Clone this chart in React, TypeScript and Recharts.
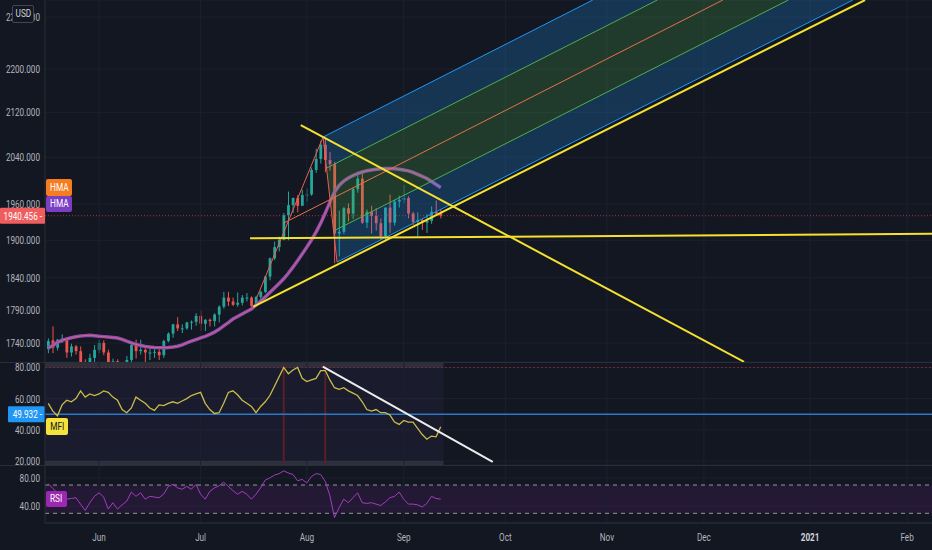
import React from 'react';
import {
  Area,
  Bar,
  CartesianGrid,
  ComposedChart,
  Line,
  ReferenceArea,
  ReferenceLine,
  XAxis,
  YAxis,
} from 'recharts';

// XAUUSD daily, May–Sep 2020 + future space. Bar index 0 = 15 May 2020 (weekdays only).

document.body.style.margin = '0';
document.body.style.background = '#131722';

const BG = '#131722';
const GRID = '#1c2030';
const BORDER = '#2a2e39';
const TEXT = '#b2b5be';
const UP = '#26a69a';
const DOWN = '#ef5350';
const FONT = 'Roboto, sans-serif';

const W = 932;
const AXIS_W = 45;
const X_DOMAIN: [number, number] = [-0.7, 191.4];

const MONTH_TICKS = [11, 33, 56, 77, 99, 121, 142, 165, 186];
const MONTH_LABELS = ['Jun', 'Jul', 'Aug', 'Sep', 'Oct', 'Nov', 'Dec', '2021', 'Feb'];

const OPEN = [
  1731, 1744, 1733, 1745, 1747, 1726, 1735, 1728, 1710, 1708,
  1718, 1730, 1740, 1726, 1700, 1713, 1685, 1698, 1715, 1737,
  1728, 1730, 1726, 1726, 1727, 1722, 1743, 1754, 1768, 1762,
  1762, 1771, 1772, 1781, 1769, 1775, 1773, 1783, 1795, 1809,
  1803, 1798, 1801, 1809, 1809, 1796, 1810, 1818, 1842, 1871,
  1889, 1901, 1941, 1958, 1970, 1957, 1975, 1976, 2018, 2037,
  2062, 2035, 2028, 1911, 1914, 1953, 1944, 1985, 2003, 1929,
  1947, 1940, 1928, 1907, 1954, 1929, 1964, 1967, 1970, 1944,
  1930, 1933, 1929, 1932, 1947, 1944,
];
const HIGH = [
  1747, 1765, 1746, 1753, 1748, 1739, 1737, 1735, 1716, 1724,
  1737, 1745, 1744, 1730, 1717, 1716, 1701, 1721, 1740, 1745,
  1745, 1732, 1736, 1732, 1731, 1745, 1756, 1769, 1779, 1768,
  1772, 1774, 1785, 1789, 1776, 1777, 1785, 1797, 1818, 1818,
  1809, 1817, 1813, 1816, 1811, 1812, 1820, 1843, 1872, 1898,
  1906, 1945, 1981, 1971, 1975, 1984, 1986, 2022, 2055, 2069,
  2075, 2049, 2032, 1949, 1955, 1961, 1988, 2015, 2014, 1951,
  1957, 1953, 1936, 1954, 1976, 1967, 1974, 1992, 1973, 1947,
  1946, 1935, 1943, 1956, 1966, 1951,
];
const LOW = [
  1725, 1725, 1729, 1740, 1718, 1720, 1723, 1703, 1693, 1702,
  1710, 1725, 1722, 1693, 1694, 1671, 1684, 1694, 1711, 1717,
  1723, 1705, 1715, 1718, 1715, 1718, 1741, 1748, 1758, 1755,
  1760, 1760, 1766, 1758, 1758, 1765, 1765, 1771, 1792, 1796,
  1796, 1795, 1797, 1803, 1795, 1795, 1805, 1816, 1836, 1868,
  1882, 1900, 1900, 1945, 1946, 1957, 1964, 1974, 2013, 2029,
  2014, 2017, 1863, 1874, 1910, 1931, 1935, 1979, 1927, 1920,
  1911, 1916, 1901, 1901, 1912, 1924, 1954, 1961, 1936, 1925,
  1906, 1917, 1912, 1927, 1942, 1936,
];
const CLOSE = [
  1743, 1733, 1745, 1747, 1726, 1735, 1728, 1710, 1708, 1718,
  1730, 1740, 1726, 1700, 1713, 1685, 1698, 1715, 1737, 1728,
  1730, 1726, 1726, 1727, 1722, 1743, 1754, 1768, 1762, 1762,
  1771, 1772, 1781, 1769, 1775, 1773, 1783, 1795, 1809, 1803,
  1798, 1801, 1809, 1809, 1796, 1810, 1818, 1842, 1871, 1889,
  1901, 1941, 1958, 1970, 1957, 1975, 1976, 2018, 2037, 2062,
  2035, 2028, 1911, 1914, 1953, 1944, 1985, 2003, 1929, 1947,
  1940, 1928, 1907, 1954, 1929, 1964, 1967, 1970, 1944, 1930,
  1933, 1929, 1932, 1947, 1944, 1940,
];
const HMA = [
  1732.7, 1736.4, 1741.0, 1744.0, 1746.2, 1748.0, 1749.5, 1750.4, 1751.1, 1751.5,
  1751.0, 1750.2, 1749.6, 1749.0, 1748.4, 1747.5, 1745.5, 1742.8, 1740.3, 1738.0,
  1736.5, 1735.0, 1734.1, 1733.5, 1733.2, 1733.0, 1733.3, 1734.1, 1735.3, 1737.2,
  1740.2, 1742.8, 1745.2, 1747.7, 1750.0, 1753.0, 1756.4, 1760.5, 1765.8, 1770.7,
  1776.1, 1780.0, 1783.9, 1787.7, 1791.5, 1797.6, 1803.7, 1809.9, 1817.1, 1824.1,
  1831.1, 1838.4, 1847.1, 1856.8, 1867.2, 1877.8, 1888.9, 1900.4, 1913.4, 1928.1,
  1944.8, 1963.2, 1980.2, 1991.3, 1998.9, 2004.0, 2008.3, 2011.8, 2014.4, 2016.5,
  2018.0, 2019.0, 2020.0, 2020.3, 2020.3, 2020.0, 2019.0, 2018.0, 2016.3, 2013.7,
  2010.2, 2006.8, 2003.3, 1998.1, 1993.0, 1987.9,
];
const MFI = [
  57, 52, 49, 56, 59, 58, 60, 65, 61, 63,
  62, 63, 65, 64, 61, 59, 53, 51, 54, 61,
  59, 57, 54, 52.5, 56, 55.5, 57, 58, 57, 58.5,
  60, 62, 63, 64, 57, 53, 50.5, 51, 57, 64,
  65, 62.5, 59, 57, 55, 51, 55, 58, 62, 68,
  74, 80, 76, 78.4, 80, 73, 71, 72, 73, 78,
  78, 72, 67, 66, 67, 65, 63.5, 62, 58, 53,
  52, 53, 51, 51, 49.5, 45, 43.5, 46, 45, 45,
  41, 37, 34, 36, 35.5, 42,
];
const RSI = [
  72, 65, 59, 52, 50, 51, 52, 43, 34, 45,
  54, 59, 53, 36, 45, 36, 42, 47, 60, 54,
  59, 50, 54, 53, 52, 57, 68, 71, 66, 64,
  68, 64, 71, 57, 50, 61, 66, 69, 74, 68,
  62, 57, 61, 57, 50, 57, 66, 77, 80, 84,
  86, 90, 87, 85, 76, 78, 73, 82, 86, 85,
  75, 55, 24, 38, 50, 45, 52, 59, 45, 44,
  45, 43, 41, 46, 52, 54, 60, 50, 43, 43,
  42, 39, 44, 54, 51, 50,
];

const PRICE_TICKS = [1740, 1790, 1840, 1900, 1960, 2040, 2120, 2200, 2300];
const PRICE_DOMAIN: [number, number] = [1712, 2334];
const LAST_PRICE = 1940.456;
const MFI_TICKS = [20, 40, 60, 80];
const MFI_DOMAIN: [number, number] = [17.45, 83.5];
const MFI_LEVEL = 49.932;
const MFI_HOT_BARS = [51, 60];
const RSI_TICKS = [40, 80];
const RSI_DOMAIN: [number, number] = [16.3, 98.3];

// drawings as [bar index, price]
const TREND_DOWN = [[54.69, 2097.0], [150.7, 1712.3]];
const TREND_FLAT = [[43.71, 1903.2], [191.4, 1910.5]];
const TREND_UP = [[44.42, 1794.9], [176.9, 2333.9]];
const FORK_AB = [[45.22, 1809.9], [59.52, 2075.6]];
const FORK_BC = [[59.52, 2075.6], [62.55, 1864.9]];
const FORK_TOP = [[59.52, 2075.6], [117.93, 2333.9]];
const FORK_UPPER = [[60.28, 2021.2], [131.9, 2333.9]];
const FORK_MEDIAN = [[50.92, 1927.9], [146.09, 2333.9]];
const FORK_LOWER = [[61.79, 1915.1], [160.28, 2333.9]];
const FORK_BOTTOM = [[62.55, 1864.9], [174.25, 2333.9]];
// pitchfork bands as [bar index, low, high]
const BAND_OUTER_HI = [[59.52, 2075.6, 2075.6], [60.28, 2021.2, 2078.8], [131.9, 2333.9, 2400.3]];
const BAND_INNER_HI = [[60.28, 2021.2, 2021.2], [61.04, 1967.4, 2024.3], [146.09, 2333.9, 2401.4]];
const BAND_INNER_LO = [[61.04, 1967.4, 1967.4], [61.79, 1915.1, 1970.5], [160.28, 2333.9, 2401.4]];
const BAND_OUTER_LO = [[61.79, 1915.1, 1915.1], [62.55, 1864.9, 1918.0], [174.25, 2333.9, 2400.3]];
const MFI_TREND = [[59.46, 80.5], [96.27, 19.5]];

const rows = OPEN.map((o, i) => ({
  i,
  o,
  h: HIGH[i],
  l: LOW[i],
  c: CLOSE[i],
  range: [LOW[i], HIGH[i]],
  hma: HMA[i],
  mfi: MFI[i],
  rsi: RSI[i],
}));
const seg = (pts: number[][]) => pts.map(([i, v]) => ({ i, v }));
const band = (pts: number[][]) => pts.map(([i, lo, hi]) => ({ i, r: [lo, hi] }));

function Candle(props: any) {
  const { x, y, width, height, payload } = props;
  if (!payload || height == null || isNaN(y)) return null;
  const top = Math.min(y, y + height);
  const h = Math.abs(height);
  const span = Math.log(payload.h) - Math.log(payload.l);
  const at = (v: number) => top + (span > 0 ? (h * (Math.log(payload.h) - Math.log(v))) / span : 0);
  const cx = x + width / 2;
  const color = payload.c >= payload.o ? UP : DOWN;
  const bTop = at(Math.max(payload.o, payload.c));
  const bBot = at(Math.min(payload.o, payload.c));
  return (
    <g>
      <line x1={cx} x2={cx} y1={top} y2={top + h} stroke={color} strokeWidth={1} />
      <rect x={cx - 1.4} y={bTop} width={2.8} height={Math.max(1, bBot - bTop)} fill={color} />
    </g>
  );
}

const yTick = (digits: number) => (p: any) => (
  <text
    transform={`translate(40, ${p.y}) scale(0.74, 1)`}
    textAnchor="end"
    dy="0.35em"
    fill={TEXT}
    fontSize={11}
    fontFamily={FONT}
  >
    {Number(p.payload.value).toFixed(digits)}
  </text>
);

const monthTick = (p: any) => {
  const k = MONTH_TICKS.indexOf(p.payload.value);
  const label = MONTH_LABELS[k] ?? '';
  const year = /^\d{4}$/.test(label);
  return (
    <text
      transform={`translate(${p.x}, 76) scale(0.74, 1)`}
      textAnchor="middle"
      fill={year ? '#d1d4dc' : TEXT}
      fontWeight={year ? 700 : 400}
      fontSize={11}
      fontFamily={FONT}
    >
      {label}
    </text>
  );
};

const valueTag = (text: string, bg: string, left: number) => (p: any) => {
  const vb = p.viewBox || {};
  const w = AXIS_W - left;
  return (
    <g>
      <rect x={left} y={vb.y - 8} width={w} height={16} fill={bg} rx={1} />
      <text
        transform={`translate(${AXIS_W - 3}, ${vb.y}) scale(0.74, 1)`}
        textAnchor="end"
        dy="0.35em"
        fill="#ffffff"
        fontSize={11}
        fontFamily={FONT}
      >
        {text} -
      </text>
    </g>
  );
};

const monthGrid = MONTH_TICKS.map((t) => (
  <ReferenceLine key={`g${t}`} x={t} stroke={GRID} strokeWidth={1} ifOverflow="hidden" />
));

function Badge({ left, top, w, h, bg, color, text, border }: any) {
  return (
    <div
      style={{
        position: 'absolute',
        left,
        top,
        width: w,
        height: h,
        background: bg,
        color,
        border,
        boxSizing: 'border-box',
        borderRadius: 2,
        fontFamily: FONT,
        fontSize: 11,
        lineHeight: `${h - (border ? 2 : 0)}px`,
        textAlign: 'center',
        overflow: 'hidden',
      }}
    >
      <span style={{ display: 'inline-block', transform: 'scaleX(0.75)' }}>{text}</span>
    </div>
  );
}

const hiddenX = (
  <XAxis dataKey="i" type="number" domain={X_DOMAIN} allowDataOverflow hide />
);

export default function App() {
  const fork = (data: number[][], stroke: string, width = 1) => (
    <Line
      data={seg(data)}
      dataKey="v"
      stroke={stroke}
      strokeWidth={width}
      dot={false}
      activeDot={false}
      isAnimationActive={false}
    />
  );
  const fill = (data: number[][], color: string) => (
    <Area
      data={band(data)}
      dataKey="r"
      type="linear"
      stroke="none"
      fill={color}
      fillOpacity={0.24}
      isAnimationActive={false}
    />
  );

  return (
    <div style={{ position: 'relative', width: W, height: 550, background: BG, overflow: 'hidden' }}>
      {/* price pane */}
      <div style={{ position: 'absolute', left: 0, top: 0 }}>
        <ComposedChart width={W} height={362} data={rows} margin={{ top: 0, right: 0, bottom: 0, left: 0 }}>
          <CartesianGrid stroke={GRID} vertical={false} />
          {hiddenX}
          <YAxis
            type="number"
            scale="log"
            domain={PRICE_DOMAIN}
            allowDataOverflow
            ticks={PRICE_TICKS}
            interval={0}
            width={AXIS_W}
            tickLine={false}
            axisLine={{ stroke: BORDER }}
            tick={yTick(3)}
          />
          {monthGrid}
          <Bar dataKey="range" shape={Candle} isAnimationActive={false} />
          <Line dataKey="hma" stroke="#8a4fb0" strokeWidth={3.5} dot={false} activeDot={false} isAnimationActive={false} />
          <Line dataKey="hma" stroke="#d9607f" strokeWidth={1} dot={false} activeDot={false} isAnimationActive={false} />
        </ComposedChart>
      </div>
      {/* drawings over the price pane */}
      <div style={{ position: 'absolute', left: 0, top: 0 }}>
        <ComposedChart width={W} height={362} margin={{ top: 0, right: 0, bottom: 0, left: 0 }}>
          {hiddenX}
          <YAxis
            type="number"
            scale="log"
            domain={PRICE_DOMAIN}
            allowDataOverflow
            ticks={PRICE_TICKS}
            width={AXIS_W}
            tick={false}
            tickLine={false}
            axisLine={false}
          />
          {fill(BAND_OUTER_HI, '#2196f3')}
          {fill(BAND_INNER_HI, '#4caf50')}
          {fill(BAND_INNER_LO, '#4caf50')}
          {fill(BAND_OUTER_LO, '#2196f3')}
          <ReferenceLine
            y={LAST_PRICE}
            stroke="#f23645"
            strokeOpacity={0.7}
            strokeDasharray="1 2"
            label={valueTag('1940.456', '#f05d5e', 0)}
          />
          {fork(FORK_TOP, '#2196f3')}
          {fork(FORK_UPPER, '#4caf50')}
          {fork(FORK_MEDIAN, '#e8704a')}
          {fork(FORK_LOWER, '#4caf50')}
          {fork(FORK_BOTTOM, '#2196f3')}
          {fork(FORK_AB, '#e8604e')}
          {fork(FORK_BC, '#e8604e')}
          {fork(TREND_DOWN, '#f5e12e', 2)}
          {fork(TREND_FLAT, '#f5e12e', 2)}
          {fork(TREND_UP, '#f5e12e', 2)}
        </ComposedChart>
      </div>

      {/* MFI pane */}
      <div style={{ position: 'absolute', left: 0, top: 362 }}>
        <ComposedChart width={W} height={103} data={rows} margin={{ top: 0, right: 0, bottom: 0, left: 0 }}>
          <CartesianGrid stroke={GRID} vertical={false} />
          {hiddenX}
          <YAxis
            type="number"
            domain={MFI_DOMAIN}
            allowDataOverflow
            ticks={MFI_TICKS}
            interval={0}
            width={AXIS_W}
            tickLine={false}
            axisLine={{ stroke: BORDER }}
            tick={yTick(3)}
          />
          {monthGrid}
          <ReferenceArea x1={X_DOMAIN[0]} x2={85.6} y1={20} y2={80} fill="#7e57c2" fillOpacity={0.07} stroke="none" />
          <ReferenceArea x1={X_DOMAIN[0]} x2={85.6} y1={80} y2={MFI_DOMAIN[1]} fill="#787b86" fillOpacity={0.25} stroke="none" />
          <ReferenceArea x1={X_DOMAIN[0]} x2={85.6} y1={MFI_DOMAIN[0]} y2={20} fill="#787b86" fillOpacity={0.25} stroke="none" />
          {MFI_HOT_BARS.map((b) => (
            <ReferenceLine key={`hot${b}`} x={b} stroke="#5a1f2a" strokeWidth={2} />
          ))}
          <ReferenceLine y={80} stroke="#7a2632" strokeDasharray="2 2" />
          <ReferenceLine y={MFI_LEVEL} stroke="#2a78c8" strokeWidth={1.5} label={valueTag('49.932', '#2196f3', 8)} />
          <Line dataKey="mfi" stroke="#c9bd4a" strokeWidth={1.3} dot={false} activeDot={false} isAnimationActive={false} />
          <Line
            data={seg(MFI_TREND)}
            dataKey="v"
            stroke="#ececec"
            strokeWidth={2}
            dot={false}
            activeDot={false}
            isAnimationActive={false}
          />
        </ComposedChart>
      </div>

      {/* RSI pane */}
      <div style={{ position: 'absolute', left: 0, top: 465 }}>
        <ComposedChart width={W} height={85} data={rows} margin={{ top: 0, right: 0, bottom: 0, left: 0 }}>
          <CartesianGrid stroke={GRID} vertical={false} />
          <XAxis
            dataKey="i"
            type="number"
            domain={X_DOMAIN}
            allowDataOverflow
            ticks={MONTH_TICKS}
            interval={0}
            height={27}
            tickLine={false}
            axisLine={{ stroke: BORDER }}
            tick={monthTick}
          />
          <YAxis
            type="number"
            domain={RSI_DOMAIN}
            allowDataOverflow
            ticks={RSI_TICKS}
            interval={0}
            width={AXIS_W}
            tickLine={false}
            axisLine={{ stroke: BORDER }}
            tick={yTick(2)}
          />
          {monthGrid}
          <ReferenceArea y1={30} y2={70} fill="#9c27b0" fillOpacity={0.13} stroke="none" />
          <ReferenceLine y={70} stroke="#9598a1" strokeDasharray="4 4" />
          <ReferenceLine y={30} stroke="#9598a1" strokeDasharray="4 4" />
          <Line dataKey="rsi" stroke="#a23cc0" strokeWidth={1} dot={false} activeDot={false} isAnimationActive={false} />
        </ComposedChart>
      </div>

      {/* pane separators */}
      <div style={{ position: 'absolute', left: 0, top: 362, width: W, height: 1, background: BORDER }} />
      <div style={{ position: 'absolute', left: 0, top: 465, width: W, height: 1, background: BORDER }} />

      <Badge left={12} top={5} w={22} h={18} bg={BG} color="#d1d4dc" text="USD" border="1px solid #434651" />
      <Badge left={46} top={179} w={26} h={17} bg="#f57c1f" color="#ffffff" text="HMA" />
      <Badge left={46} top={196} w={26} h={16} bg="#7b3fc4" color="#ffffff" text="HMA" />
      <Badge left={46} top={418} w={22} h={17} bg="#f5e33b" color="#131722" text="MFI" />
      <Badge left={46} top={491} w={21} h={16} bg="#9c27b0" color="#ffffff" text="RSI" />
    </div>
  );
}
